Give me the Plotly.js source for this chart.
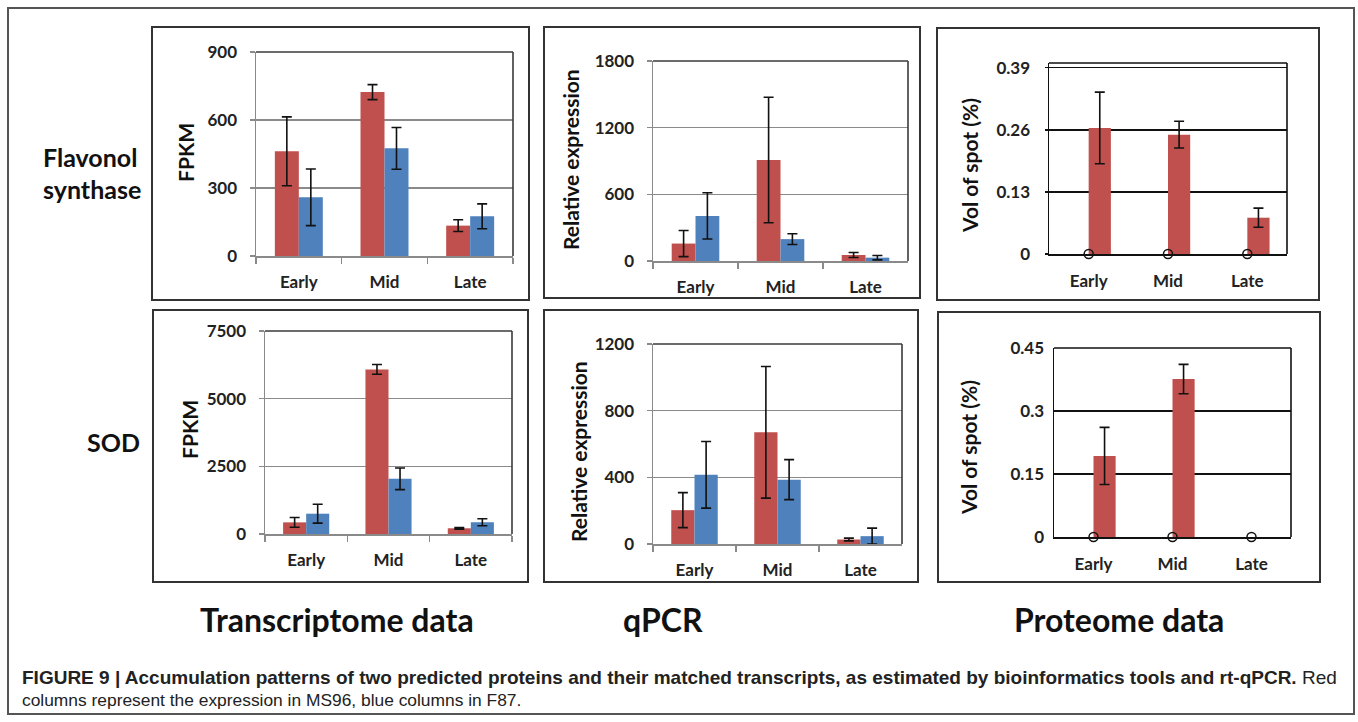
<!DOCTYPE html>
<html><head><meta charset="utf-8">
<script src="https://cdn.plot.ly/plotly-3.0.1.min.js"></script>
<style>html,body{margin:0;padding:0;background:#fff}#chart{width:1358px;height:722px}</style>
</head><body><div id="chart"></div>
<script>
// ---------- data ----------
const stages = ['Early', 'Mid', 'Late'];

// Flavonol synthase
const fsTransMS96 = [462, 723, 134];
const fsTransMS96Err = [152, 33, 26];
const fsTransF87 = [259, 475, 175];
const fsTransF87Err = [125, 92, 55];

const fsQpcrMS96 = [157, 909, 54];
const fsQpcrMS96Err = [118, 565, 22];
const fsQpcrF87 = [406, 197, 30];
const fsQpcrF87Err = [208, 48, 20];

const fsProtMS96 = [0.264, 0.250, 0.076];
const fsProtMS96Err = [0.075, 0.028, 0.020];
const fsProtF87 = [0, 0, 0];

// SOD
const sodTransMS96 = [430, 6080, 211];
const sodTransMS96Err = [180, 180, 30];
const sodTransF87 = [750, 2040, 435];
const sodTransF87Err = [350, 400, 130];

const sodQpcrMS96 = [203, 670, 27];
const sodQpcrMS96Err = [105, 395, 8];
const sodQpcrF87 = [415, 386, 47];
const sodQpcrF87Err = [200, 120, 48];

const sodProtMS96 = [0.193, 0.376, null];
const sodProtMS96Err = [0.068, 0.035, null];
const sodProtF87 = [0, 0, 0];

// axis ticks
const fsTransTicks = [0, 300, 600, 900];
const fsQpcrTicks = [0, 600, 1200, 1800];
const fsProtTicks = [0, 0.13, 0.26, 0.39];
const fsProtTickText = ['0', '0.13', '0.26', '0.39'];
const sodTransTicks = [0, 2500, 5000, 7500];
const sodQpcrTicks = [0, 400, 800, 1200];
const sodProtTicks = [0, 0.15, 0.3, 0.45];
const sodProtTickText = ['0', '0.15', '0.3', '0.45'];

const rowLabels = [['Flavonol', 'synthase'], ['SOD']];
const colLabels = ['Transcriptome data', 'qPCR', 'Proteome data'];
const yTitles = ['FPKM', 'Relative expression', 'Vol of spot (%)'];
const captionBold = 'FIGURE 9 | Accumulation patterns of two predicted proteins and their matched transcripts, as estimated by bioinformatics tools and rt-qPCR.';
const captionRest = ' Red';
const captionLine2 = 'columns represent the expression in MS96, blue columns in F87.';

// ---------- layout helpers ----------
const W = 1358, H = 722;
const px = x => x / W;
const py = y => 1 - y / H;
const RED = '#C0504D', BLUE = '#4F81BD';
const FONT = 'Lato, "Open Sans", sans-serif';
const GRID = '#8a8a8a';

const panels = [
  {kind: 'trans', plot: [256, 52, 513, 256], box: [152, 27, 529, 300], range: [0, 900], ticks: fsTransTicks, ms: fsTransMS96, msE: fsTransMS96Err, f: fsTransF87, fE: fsTransF87Err, title: yTitles[0], tpos: [185, 152]},
  {kind: 'qpcr', plot: [653, 61, 908, 261], box: [544, 27, 920, 298], range: [0, 1800], ticks: fsQpcrTicks, ms: fsQpcrMS96, msE: fsQpcrMS96Err, f: fsQpcrF87, fE: fsQpcrF87Err, title: yTitles[1], tpos: [570, 160]},
  {kind: 'prot', plot: [1049, 63, 1287, 254], box: [937, 28, 1319, 300], range: [0, 0.4], ticks: fsProtTicks, tickText: fsProtTickText, ms: fsProtMS96, msE: fsProtMS96Err, f: fsProtF87, title: yTitles[2], tpos: [969, 166]},
  {kind: 'trans', plot: [265, 331, 512, 534], box: [153, 310, 528, 582], range: [0, 7500], ticks: sodTransTicks, ms: sodTransMS96, msE: sodTransMS96Err, f: sodTransF87, fE: sodTransF87Err, title: yTitles[0], tpos: [189, 430]},
  {kind: 'qpcr', plot: [653, 344, 902, 544], box: [544, 310, 918, 582], range: [0, 1200], ticks: sodQpcrTicks, ms: sodQpcrMS96, msE: sodQpcrMS96Err, f: sodQpcrF87, fE: sodQpcrF87Err, title: yTitles[1], tpos: [578, 452]},
  {kind: 'prot', plot: [1054, 348, 1291, 537], box: [938, 312, 1320, 582], range: [0, 0.45], ticks: sodProtTicks, tickText: sodProtTickText, ms: sodProtMS96, msE: sodProtMS96Err, f: sodProtF87, title: yTitles[2], tpos: [969, 448]}
];

const data = [];
const layout = {
  width: W, height: H,
  margin: {l: 0, r: 0, t: 0, b: 0},
  paper_bgcolor: '#fff', plot_bgcolor: 'rgba(0,0,0,0)',
  showlegend: false,
  bargap: 0.44, bargroupgap: 0,
  barmode: 'group',
  shapes: [], annotations: []
};

function errObj(arr, half) {
  return {type: 'data', array: arr, visible: true, color: '#111', thickness: 1.6, width: half};
}

panels.forEach((p, i) => {
  const n = i === 0 ? '' : String(i + 1);
  const xa = 'x' + n, ya = 'y' + n;
  const prot = p.kind === 'prot';
  const axisCol = prot ? '#111' : GRID;
  const gridCol = prot ? '#111' : GRID;

  if (!prot) {
    data.push({type: 'bar', x: stages, y: p.ms, xaxis: xa, yaxis: ya, marker: {color: RED}, error_y: errObj(p.msE, 5), hoverinfo: 'none'});
    data.push({type: 'bar', x: stages, y: p.f, xaxis: xa, yaxis: ya, marker: {color: BLUE}, error_y: errObj(p.fE, 5), hoverinfo: 'none'});
  } else {
    data.push({type: 'bar', x: stages, y: p.f, xaxis: xa, yaxis: ya, marker: {color: BLUE}, hoverinfo: 'none'});
    data.push({type: 'bar', x: stages, y: p.ms, xaxis: xa, yaxis: ya, marker: {color: RED}, error_y: errObj(p.msE, 5), hoverinfo: 'none'});
    data.push({type: 'scatter', mode: 'markers', x: stages, y: p.f, xaxis: xa, yaxis: ya, cliponaxis: false,
      marker: {symbol: 'circle-open', size: 9, color: '#111', line: {width: 1.5, color: '#111'}}, hoverinfo: 'none'});
  }

  layout['xaxis' + n] = {
    domain: [px(p.plot[0]), px(p.plot[2])], anchor: ya,
    type: 'category', categoryorder: 'array', categoryarray: stages, range: [-0.5, 2.5],
    showline: true, linecolor: axisCol, linewidth: 1.5,
    ticks: prot ? '' : 'outside', tickson: 'boundaries', ticklen: 6, tickcolor: GRID, tickwidth: 1.3,
    showgrid: false, zeroline: false, fixedrange: true,
    tickfont: {family: FONT, size: 17, color: '#222', weight: 700},
    ticklabelstandoff: prot ? 11 : 10
  };
  layout['yaxis' + n] = {
    domain: [py(p.plot[3]), py(p.plot[1])], anchor: xa,
    range: p.range, tickvals: p.ticks, ticktext: p.tickText || p.ticks.map(String),
    showline: true, linecolor: axisCol, linewidth: 1.5,
    showgrid: true, gridcolor: gridCol, gridwidth: 1.4, zeroline: false, fixedrange: true,
    ticks: (i === 5) ? '' : 'outside', ticklen: prot ? 3 : 5, tickcolor: axisCol, tickwidth: 1.3,
    tickfont: {family: FONT, size: 17, color: '#222', weight: 700},
    ticklabelstandoff: (i === 5) ? 5 : (prot ? 11 : 9)
  };

  // plot-area border (top and right edges)
  const bc = prot ? '#111' : '#3a3a3a';
  layout.shapes.push({type: 'line', xref: xa + ' domain', yref: ya + ' domain', x0: 0, x1: 1, y0: 1, y1: 1, line: {color: bc, width: 1.6}, layer: 'above'});
  layout.shapes.push({type: 'line', xref: xa + ' domain', yref: ya + ' domain', x0: 1, x1: 1, y0: 0, y1: 1, line: {color: bc, width: 1.6}, layer: 'above'});

  // panel box
  layout.shapes.push({type: 'rect', xref: 'paper', yref: 'paper',
    x0: px(p.box[0]), x1: px(p.box[2]), y0: py(p.box[3]), y1: py(p.box[1]),
    line: {color: '#333', width: 2}, fillcolor: 'rgba(0,0,0,0)', layer: 'below'});

  // y-axis title
  layout.annotations.push({text: p.title, xref: 'paper', yref: 'paper', x: px(p.tpos[0]), y: py(p.tpos[1]),
    xanchor: 'center', yanchor: 'middle', textangle: -90, showarrow: false,
    font: {family: FONT, size: 21, color: '#111', weight: 700}});
});

// outer frame
layout.shapes.push({type: 'rect', xref: 'paper', yref: 'paper', x0: px(8), x1: px(1354), y0: py(714), y1: py(8),
  line: {color: '#555', width: 2}, fillcolor: 'rgba(0,0,0,0)', layer: 'below'});

// row labels
const rowFont = {family: FONT, size: 25, color: '#111', weight: 700};
layout.annotations.push({text: rowLabels[0][0], x: px(90), y: py(157), xref: 'paper', yref: 'paper', showarrow: false, xanchor: 'center', yanchor: 'middle', font: rowFont});
layout.annotations.push({text: rowLabels[0][1], x: px(92), y: py(189), xref: 'paper', yref: 'paper', showarrow: false, xanchor: 'center', yanchor: 'middle', font: rowFont});
layout.annotations.push({text: rowLabels[1][0], x: px(113), y: py(442), xref: 'paper', yref: 'paper', showarrow: false, xanchor: 'center', yanchor: 'middle', font: rowFont});

// column labels
const colFont = {family: FONT, size: 32, color: '#111', weight: 700};
[[337, 619], [663, 619], [1119, 619]].forEach((c, k) => {
  layout.annotations.push({text: colLabels[k], x: px(c[0]), y: py(c[1]), xref: 'paper', yref: 'paper', showarrow: false, xanchor: 'center', yanchor: 'middle', font: colFont});
});

// caption: sizes chosen so the lines span the widths seen in the figure
const capFamily = '"Liberation Sans", Arial, Helvetica, sans-serif';
let capSize = 16, capSize2 = 15;
try {
  const ctx = document.createElement('canvas').getContext('2d');
  ctx.font = 'bold 16px "Liberation Sans"';
  const w1 = ctx.measureText(captionBold).width;
  ctx.font = '16px "Liberation Sans"';
  const w2 = ctx.measureText(captionRest).width;
  const w3 = ctx.measureText(captionLine2).width;
  if (w1 + w2 > 0) capSize = Math.max(13, Math.min(19, 16 * 1322 / (w1 + w2)));
  if (w3 > 0) capSize2 = Math.max(13, Math.min(19, 16 * 500 / w3));
} catch (e) {}
layout.annotations.push({text: '<b>' + captionBold + '</b>' + captionRest, x: px(20), y: py(677), xref: 'paper', yref: 'paper', showarrow: false, xanchor: 'left', yanchor: 'middle', font: {family: capFamily, size: capSize, color: '#222'}});
layout.annotations.push({text: captionLine2, x: px(20), y: py(700), xref: 'paper', yref: 'paper', showarrow: false, xanchor: 'left', yanchor: 'middle', font: {family: capFamily, size: capSize2, color: '#222'}});

Plotly.newPlot('chart', data, layout, {displayModeBar: false, staticPlot: true});
</script>
</body></html>
